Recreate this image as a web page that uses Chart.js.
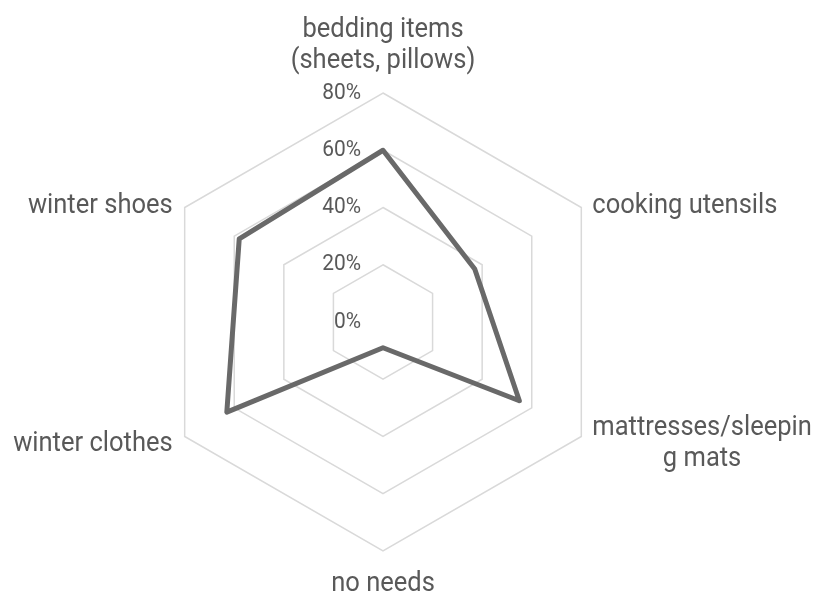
<!DOCTYPE html>
<html>
<head>
<meta charset="utf-8">
<title>Needs by item</title>
<script src="https://cdn.jsdelivr.net/npm/chart.js@4/dist/chart.umd.min.js"></script>
<style>
  html, body { margin: 0; padding: 0; background: #ffffff; }
  #wrap { width: 813px; height: 592px; position: relative; }
</style>
</head>
<body>
<div id="wrap"><canvas id="needsChart"></canvas></div>
<script>
// ================= DATA =================
const categories = [
    ["bedding items", "(sheets, pillows)"],
    "cooking utensils",
    ["mattresses/sleepin", "g mats"],
    "no needs",
    "winter clothes",
    "winter shoes"
];

const shareValues = [60, 37, 55, 9, 63, 58];

const tickValues = [0, 20, 40, 60, 80];
const tickLabels = ["0%", "20%", "40%", "60%", "80%"];

const textColor = "#595959";
const lineHeight = 31;

// narrow text: draw a regular face squeezed horizontally
function narrowText(ctx, text, x, y, sx) {
    ctx.save();
    ctx.translate(x, y);
    ctx.scale(sx, 1);
    ctx.fillText(text, 0, 0);
    ctx.restore();
}

// ================= LABELS =================
// tick labels sit just left of the vertical axis, category labels outside each corner
const radarText = {
    id: "radarText",
    afterDraw(chart) {
        const scale = chart.scales.r;
        const ctx = chart.ctx;

        ctx.save();
        ctx.fillStyle = textColor;

        ctx.font = "22px Roboto";
        ctx.textAlign = "right";
        ctx.textBaseline = "middle";
        tickValues.forEach((v, i) => {
            const y = scale.yCenter - scale.getDistanceFromCenterForValue(v);
            narrowText(ctx, tickLabels[i], scale.xCenter - 22, y, 0.95);
        });

        const sx = 0.945;
        ctx.font = "27px Roboto";
        ctx.textAlign = "center";
        ctx.textBaseline = "alphabetic";

        categories.forEach((label, i) => {
            const lines = Array.isArray(label) ? label : [label];
            const n = lines.length;
            const p = scale.getPointPosition(i, scale.drawingArea);
            const deg = Math.round(scale.getIndexAngle(i) * 180 / Math.PI) % 360;
            const w = Math.max(...lines.map(l => ctx.measureText(l).width)) * sx;

            let cx, firstBase;
            if (deg === 0) {
                cx = p.x;
                firstBase = p.y - 25 - (n - 1) * lineHeight;
            } else if (deg === 180) {
                cx = p.x;
                firstBase = p.y + 40;
            } else {
                cx = deg < 180 ? p.x + 11 + w / 2 : p.x - 12 - w / 2;
                const dy = (deg < 90 || deg > 270) ? 5 : 14;
                firstBase = p.y + dy - (n - 1) / 2 * lineHeight;
            }

            lines.forEach((l, k) => narrowText(ctx, l, cx, firstBase + k * lineHeight, sx));
        });

        ctx.restore();
    }
};

// ================= CHART =================
const needsChart = document.getElementById("needsChart");

new Chart(needsChart, {

    type: "radar",

    data: {
        labels: categories,
        datasets: [{
            data: shareValues,
            borderColor: "#696969",
            borderWidth: 5,
            borderJoinStyle: "round",
            backgroundColor: "rgba(0,0,0,0)",
            fill: false,
            pointRadius: 0,
            pointHoverRadius: 0,
            tension: 0
        }]
    },

    options: {
        responsive: true,
        maintainAspectRatio: false,
        animation: false,
        layout: {
            padding: { top: 93, bottom: 41, left: 154, right: 201 }
        },
        plugins: {
            legend: { display: false },
            tooltip: { enabled: false }
        },
        scales: {
            r: {
                min: 0,
                max: 80,
                ticks: {
                    stepSize: 20,
                    display: false
                },
                grid: {
                    color: "#d9d9d9",
                    lineWidth: 1.5
                },
                angleLines: { display: false },
                pointLabels: { display: false }
            }
        }
    },

    plugins: [radarText]

});
</script>
</body>
</html>
